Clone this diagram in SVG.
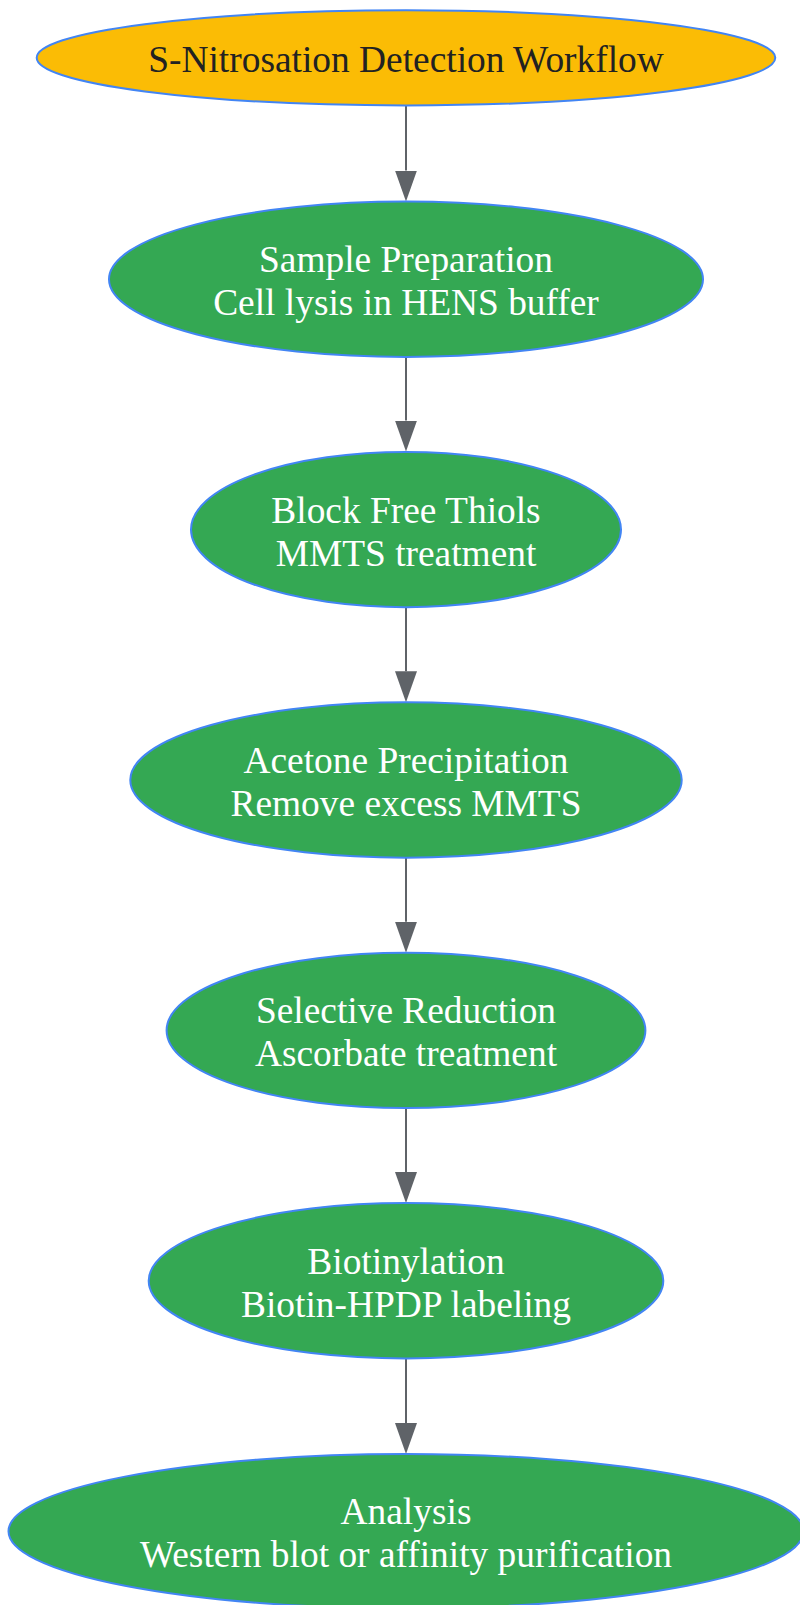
<svg xmlns="http://www.w3.org/2000/svg" width="800" height="1605" viewBox="0 0 800 1605">
<style>
.node{stroke:#4285F4;stroke-width:2}
.start{fill:#FBBC05}
.step{fill:#34A853}
text{font-family:"Liberation Serif","Times New Roman",serif;font-size:37.4px;text-anchor:middle}
.dark{fill:#222222}
.light{fill:#FFFFFF}
.edge{stroke:#5F6368;stroke-width:2;fill:none}
</style>
<defs>
<marker id="arrow" markerUnits="userSpaceOnUse" viewBox="0 0 31 22" refX="0" refY="11" markerWidth="31" markerHeight="22" orient="auto">
<path d="M0,0 L31,11 L0,22 Z" fill="#5F6368"/>
</marker>
</defs>
<rect width="800" height="1605" fill="#FFFFFF"/>
<g id="connectors">
<path class="edge" d="M406,105.4 L406,170.5" marker-end="url(#arrow)"/>
<path class="edge" d="M406,357 L406,420.6" marker-end="url(#arrow)"/>
<path class="edge" d="M406,607.4 L406,671.3" marker-end="url(#arrow)"/>
<path class="edge" d="M406,857.7 L406,921.7" marker-end="url(#arrow)"/>
<path class="edge" d="M406,1108.1 L406,1172.1" marker-end="url(#arrow)"/>
<path class="edge" d="M406,1358.5 L406,1423" marker-end="url(#arrow)"/>
</g>
<g id="n1">
<ellipse class="node start" cx="406" cy="57.8" rx="369.3" ry="47.6"/>
<text class="dark" x="406" y="71.5">S-Nitrosation Detection Workflow</text>
</g>
<g id="n2">
<ellipse class="node step" cx="406" cy="279.3" rx="297" ry="77.7"/>
<text class="light" x="406" y="272.2">Sample Preparation</text>
<text class="light" x="406" y="315.2">Cell lysis in HENS buffer</text>
</g>
<g id="n3">
<ellipse class="node step" cx="406" cy="529.6" rx="215" ry="77.7"/>
<text class="light" x="406" y="522.5">Block Free Thiols</text>
<text class="light" x="406" y="565.5">MMTS treatment</text>
</g>
<g id="n4">
<ellipse class="node step" cx="406" cy="780" rx="275.7" ry="77.7"/>
<text class="light" x="406" y="772.9">Acetone Precipitation</text>
<text class="light" x="406" y="815.9">Remove excess MMTS</text>
</g>
<g id="n5">
<ellipse class="node step" cx="406" cy="1030.4" rx="239.4" ry="77.7"/>
<text class="light" x="406" y="1023.3">Selective Reduction</text>
<text class="light" x="406" y="1066.3">Ascorbate treatment</text>
</g>
<g id="n6">
<ellipse class="node step" cx="406" cy="1280.8" rx="257.3" ry="77.7"/>
<text class="light" x="406" y="1273.7">Biotinylation</text>
<text class="light" x="406" y="1316.7">Biotin-HPDP labeling</text>
</g>
<g id="n7">
<ellipse class="node step" cx="406" cy="1531.2" rx="397.5" ry="77.2"/>
<text class="light" x="406" y="1524.1">Analysis</text>
<text class="light" x="406" y="1567.1">Western blot or affinity purification</text>
</g>
</svg>
